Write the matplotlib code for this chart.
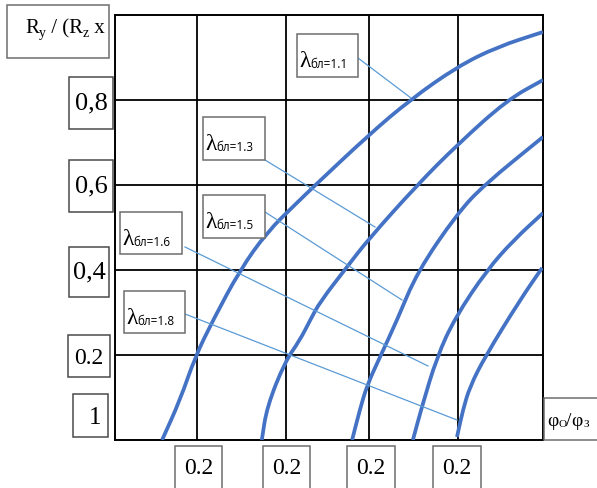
import matplotlib
matplotlib.use("Agg")
import matplotlib.pyplot as plt
from matplotlib.patches import Rectangle, PathPatch
from matplotlib.path import Path

# ---------- DATA ----------
# grid positions (relative units, 0..1)
grid_x = [0.192, 0.400, 0.593, 0.801]
grid_y = [0.2, 0.4, 0.6, 0.8]

y_tick_labels = ["0,8", "0,6", "0,4", "0.2", "1"]
x_tick_labels = ["0.2", "0.2", "0.2", "0.2"]
lambda_values = ["1.1", "1.3", "1.5", "1.6", "1.8"]

# curves (phi_o/phi_z , Ry/Rz)
curve_11_x = [0.110, 0.152, 0.187, 0.229, 0.292, 0.355, 0.425, 0.463, 0.593, 0.689, 0.799, 0.893, 1.000]
curve_11_y = [0.000, 0.094, 0.195, 0.282, 0.400, 0.489, 0.558, 0.595, 0.718, 0.800, 0.878, 0.925, 0.960]

curve_13_x = [0.343, 0.355, 0.397, 0.432, 0.456, 0.479, 0.542, 0.591, 0.706, 0.799, 0.916, 1.000]
curve_13_y = [0.000, 0.078, 0.184, 0.235, 0.282, 0.325, 0.407, 0.471, 0.600, 0.694, 0.800, 0.847]

curve_15_x = [0.554, 0.572, 0.589, 0.619, 0.659, 0.706, 0.799, 0.862, 1.000]
curve_15_y = [0.000, 0.071, 0.129, 0.195, 0.282, 0.395, 0.532, 0.600, 0.713]

curve_16_x = [0.696, 0.717, 0.752, 0.794, 0.869, 0.932, 1.000]
curve_16_y = [0.000, 0.078, 0.195, 0.287, 0.400, 0.471, 0.534]

curve_18_x = [0.799, 0.813, 0.829, 0.864, 0.946, 0.998]
curve_18_y = [0.007, 0.071, 0.125, 0.195, 0.329, 0.405]

curves = [(curve_11_x, curve_11_y), (curve_13_x, curve_13_y), (curve_15_x, curve_15_y),
          (curve_16_x, curve_16_y), (curve_18_x, curve_18_y)]

SERIF = ["Liberation Serif", "DejaVu Serif"]
SANS = ["Open Sans", "DejaVu Sans"]
CURVE_COLOR = "#4472C4"
LEADER_COLOR = "#5B9BD5"

# ---------- FIGURE ----------
W, H = 597, 488
fig = plt.figure(figsize=(W / 100, H / 100), dpi=100)
AX_L, AX_R, AX_T, AX_B = 115, 543, 15, 440
ax = fig.add_axes([AX_L / W, (H - AX_B) / H, (AX_R - AX_L) / W, (AX_B - AX_T) / H])
ax.set_xlim(0, 1)
ax.set_ylim(0, 1)
ax.set_xticks([])
ax.set_yticks([])
for s in ax.spines.values():
    s.set_color("black")
    s.set_linewidth(1.4)


def px(x, y):
    """pixel position in the picture -> axes units"""
    return (x - AX_L) / (AX_R - AX_L), (AX_B - y) / (AX_B - AX_T)


def box(x0, y0, x1, y1, ec="#6e6e6e"):
    a = px(x0, y1)
    b = px(x1, y0)
    ax.add_patch(Rectangle(a, b[0] - a[0], b[1] - a[1], facecolor="white", edgecolor=ec,
                           lw=1.1, zorder=5, clip_on=False))


def runs(x, y, parts):
    # parts: (text, size, family, dy in points) laid out left to right on one baseline
    xd, yd = px(x, y)
    prev = ax.text(xd, yd, parts[0][0], fontsize=parts[0][1], family=parts[0][2],
                   va="baseline", ha="left", zorder=6, clip_on=False)
    for s, size, fam, dy in parts[1:]:
        prev = ax.annotate(s, xy=(1, yd), xycoords=(prev, "data"), xytext=(0, dy),
                           textcoords="offset points", fontsize=size, family=fam,
                           va="baseline", ha="left", zorder=6, annotation_clip=False)


def smooth_curve(xs, ys, **kw):
    # quadratic bezier through midpoints, read points used as control points
    pts = list(zip(xs, ys))
    mid = lambda p, q: ((p[0] + q[0]) / 2, (p[1] + q[1]) / 2)
    verts = [pts[0], mid(pts[0], pts[1])]
    codes = [Path.MOVETO, Path.LINETO]
    for i in range(1, len(pts) - 1):
        verts += [pts[i], mid(pts[i], pts[i + 1])]
        codes += [Path.CURVE3, Path.CURVE3]
    verts.append(pts[-1])
    codes.append(Path.LINETO)
    ax.add_patch(PathPatch(Path(verts, codes), fill=False, **kw))


# grid
ax.vlines(grid_x, 0, 1, color="black", lw=1.3, zorder=1)
ax.hlines(grid_y, 0, 1, color="black", lw=1.3, zorder=1)

# curves
for cx, cy in curves:
    smooth_curve(cx, cy, edgecolor=CURVE_COLOR, lw=2.7, zorder=3, capstyle="butt")

# lambda labels with leader lines
lam_boxes = [(297, 34, 358, 77), (203, 117, 265, 160), (203, 195, 265, 238),
             (120, 212, 182, 254), (124, 291, 185, 333)]
leaders = [((358, 58), (411, 98)), ((265, 160), (375, 227)), ((265, 212), (402, 300)),
           ((185, 247), (428, 366)), ((185, 314), (457, 420))]
for val, (x0, y0, x1, y1), (p0, p1) in zip(lambda_values, lam_boxes, leaders):
    a = px(*p0)
    b = px(*p1)
    ax.plot([a[0], b[0]], [a[1], b[1]], color=LEADER_COLOR, lw=0.9, zorder=4)
    box(x0, y0, x1, y1)
    runs(x0 + 2, y0 + 33, [("λ", 17, SERIF, 0), ("бл=" + val, 8.5, SANS, -1)])

# y axis title
box(7, 5, 109, 58)
runs(25, 33, [("R", 15, SERIF, 0), ("y", 10, SERIF, -3), (" / (R", 15, SERIF, 0),
              ("z", 10, SERIF, -3), (" x", 15, SERIF, 0)])
ax.text(*px(49, 52), "`", fontsize=9, family=SERIF, ha="center", va="baseline", clip_on=False)

# y tick labels
y_boxes = [(69, 77, 113, 129), (69, 160, 113, 212), (69, 247, 109, 297),
           (68, 335, 110, 377), (73, 394, 108, 437)]
y_sizes = [19, 19, 19, 17, 18]
y_text_pos = [(91, 103), (91, 186), (89, 272), (89, 359), (95, 418)]
for lab, bx, fs, (tx, ty) in zip(y_tick_labels, y_boxes, y_sizes, y_text_pos):
    box(*bx, ec="#4a4a4a")
    ax.text(*px(tx, ty), lab, fontsize=fs, family=SERIF, ha="center", va="center",
            zorder=6, clip_on=False)

# x tick labels
x_boxes = [(175, 446, 222, 492), (263, 446, 310, 492), (347, 446, 395, 492), (433, 446, 481, 492)]
for lab, (x0, y0, x1, y1) in zip(x_tick_labels, x_boxes):
    box(x0, y0, x1, y1, ec="#6e6e6e")
    ax.text(*px((x0 + x1) / 2, 469), lab, fontsize=17, family=SERIF, ha="center",
            va="center", zorder=6, clip_on=False)

# x axis title
box(544, 398, 602, 440)
runs(547, 426, [("φ", 14, SERIF, 0), ("O", 8, SERIF, -1), ("/", 14, SERIF, 0),
                ("φ", 14, SERIF, 0), ("З", 8, SERIF, -1)])

fig.savefig("out.png", dpi=100)
